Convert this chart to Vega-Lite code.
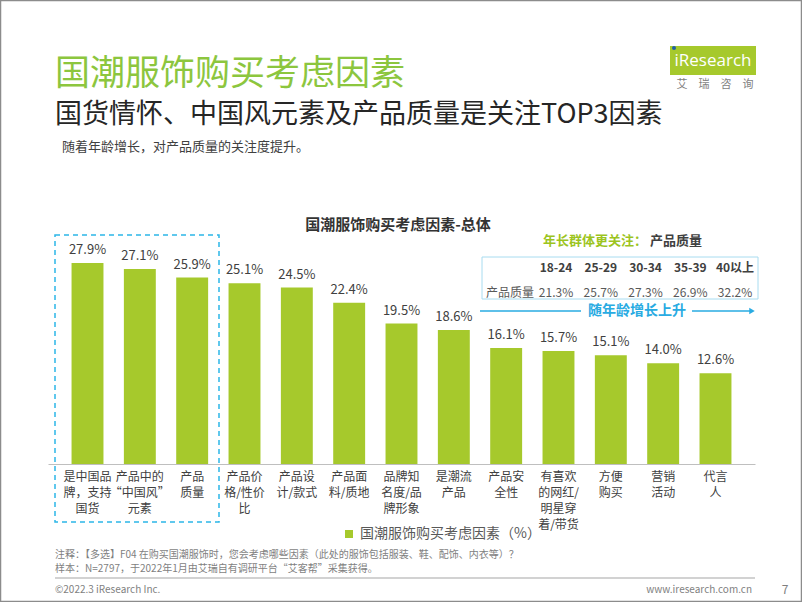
{
  "$schema": "https://vega.github.io/schema/vega-lite/v6.json",
  "width": 707,
  "height": 288,
  "autosize": {"type": "none"},
  "padding": {"left": 48, "top": 176, "right": 47, "bottom": 138},
  "background": "white",
  "config": {"view": {"stroke": null}, "font": "Noto Sans CJK SC"},
  "data": {"values": [
    {"f": "是中国品|牌，支持|国货", "v": 27.9},
    {"f": "产品中的|“中国风”|元素", "v": 27.1},
    {"f": "产品|质量", "v": 25.9},
    {"f": "产品价|格/性价|比", "v": 25.1},
    {"f": "产品设|计/款式", "v": 24.5},
    {"f": "产品面|料/质地", "v": 22.4},
    {"f": "品牌知|名度/品|牌形象", "v": 19.5},
    {"f": "是潮流|产品", "v": 18.6},
    {"f": "产品安|全性", "v": 16.1},
    {"f": "有喜欢|的网红/|明星穿|着/带货", "v": 15.7},
    {"f": "方便|购买", "v": 15.1},
    {"f": "营销|活动", "v": 14.0},
    {"f": "代言|人", "v": 12.6}
  ]},
  "resolve": {"scale": {"x": "independent"}},
  "layer": [
    {
      "encoding": {
        "x": {"field": "f", "type": "nominal", "sort": null,
          "scale": {"paddingInner": 0.39, "paddingOuter": 0.45},
          "axis": {"title": null, "labelAngle": 0, "ticks": false, "domainColor": "#bfbfbf", "domainWidth": 1,
            "labelExpr": "split(datum.label, '|')", "labelFontSize": 12, "labelLineHeight": 16,
            "labelColor": "#404040", "labelPadding": 7, "labelBaseline": "top", "labelLimit": 200}},
        "y": {"field": "v", "type": "quantitative", "scale": {"domain": [0, 40]}, "axis": null}
      },
      "layer": [
        {"mark": {"type": "bar"},
         "encoding": {"color": {"datum": "国潮服饰购买考虑因素（%）", "type": "nominal",
           "scale": {"range": ["#a6c92c"]},
           "legend": {"orient": "none", "legendX": 294, "legendY": 351, "title": null, "symbolType": "square",
             "symbolSize": 64, "labelFontSize": 14, "labelColor": "#595959", "symbolStrokeWidth": 0, "labelOffset": 4, "labelLimit": 400}}}},
        {"mark": {"type": "text", "baseline": "bottom", "dy": -6, "fontSize": 13, "color": "#404040",
          "text": {"expr": "format(datum.v, '.1f') + '%'"}}}
      ]
    },
    {
      "data": {"values": [
        {"a": "18-24", "p": "21.3%"},
        {"a": "25-29", "p": "25.7%"},
        {"a": "30-34", "p": "27.3%"},
        {"a": "35-39", "p": "26.9%"},
        {"a": "40以上", "p": "32.2%"}
      ]},
      "encoding": {
        "x": {"field": "a", "type": "nominal", "sort": null, "scale": {"type": "point", "range": [508, 687], "padding": 0}, "axis": null}
      },
      "layer": [
        {"mark": {"type": "text", "y": 92, "fontSize": 12, "fontWeight": "bold", "color": "#404040"},
         "encoding": {"text": {"field": "a"}}},
        {"mark": {"type": "text", "y": 117, "fontSize": 12, "color": "#595959"},
         "encoding": {"text": {"field": "p"}}}
      ]
    },
    {"data": {"values": [{}]}, "mark": {"type": "rect", "x": -47.5, "x2": 753.5, "y": -175.5, "y2": 425.5, "fill": null, "stroke": "#8c8c8c", "strokeWidth": 1.5}, "encoding": {}},
    {"data": {"values": [{}]}, "mark": {"type": "rect", "x": 7, "x2": 171, "y": 59, "y2": 346, "fill": null, "stroke": "#2db7e8", "strokeWidth": 1.5, "strokeDash": [5, 4]}, "encoding": {}},
    {"data": {"values": [{}]}, "mark": {"type": "rect", "x": 434, "x2": 710, "y": 81, "y2": 123, "fill": null, "stroke": "#a8dcf0", "strokeWidth": 1}, "encoding": {}},
    {"data": {"values": [{}]}, "mark": {"type": "text", "x": 462, "y": 117, "fontSize": 12, "color": "#595959", "text": "产品质量"}, "encoding": {}},
    {"data": {"values": [{}]}, "mark": {"type": "text", "x": 495, "y": 65, "align": "left", "fontSize": 13, "fontWeight": "bold", "color": "#9cc41e", "text": "年长群体更关注："}, "encoding": {}},
    {"data": {"values": [{}]}, "mark": {"type": "text", "x": 602, "y": 65, "align": "left", "fontSize": 13, "fontWeight": "bold", "color": "#404040", "text": "产品质量"}, "encoding": {}},
    {"data": {"values": [{}]}, "mark": {"type": "rect", "x": 432, "x2": 533, "y": 134.3, "y2": 135.7, "color": "#29abe2"}, "encoding": {}},
    {"data": {"values": [{}]}, "mark": {"type": "rect", "x": 644, "x2": 703, "y": 134.3, "y2": 135.7, "color": "#29abe2"}, "encoding": {}},
    {"data": {"values": [{}]}, "mark": {"type": "point", "x": 704, "y": 135, "shape": "triangle-right", "size": 40, "filled": true, "color": "#29abe2", "opacity": 1}, "encoding": {}},
    {"data": {"values": [{}]}, "mark": {"type": "text", "x": 589, "y": 135, "fontSize": 14, "fontWeight": "bold", "color": "#29abe2", "text": "随年龄增长上升"}, "encoding": {}},
    {"data": {"values": [{}]}, "mark": {"type": "text", "x": 350, "y": 49, "fontSize": 15, "fontWeight": "bold", "color": "#333333", "text": "国潮服饰购买考虑因素-总体"}, "encoding": {}},
    {"data": {"values": [{}]}, "mark": {"type": "text", "x": 7, "y": -102, "align": "left", "fontSize": 35, "color": "#8cc63e", "text": "国潮服饰购买考虑因素"}, "encoding": {}},
    {"data": {"values": [{}]}, "mark": {"type": "text", "x": 7, "y": -61, "align": "left", "fontSize": 27, "color": "#262626", "text": "国货情怀、中国风元素及产品质量是关注TOP3因素"}, "encoding": {}},
    {"data": {"values": [{}]}, "mark": {"type": "text", "x": 14, "y": -29, "align": "left", "fontSize": 13, "color": "#404040", "text": "随着年龄增长，对产品质量的关注度提升。"}, "encoding": {}},
    {"data": {"values": [{}]}, "mark": {"type": "rect", "x": 622, "x2": 708, "y": -130, "y2": -101, "color": "#a6c92c"}, "encoding": {}},
    {"data": {"values": [{}]}, "mark": {"type": "text", "x": 665, "y": -115, "align": "center", "fontSize": 17, "font": "Open Sans", "color": "white", "text": "iResearch"}, "encoding": {}},
    {"data": {"values": [{}]}, "mark": {"type": "point", "x": 626, "y": -128, "size": 16, "filled": true, "color": "#1f5fa8", "opacity": 1}, "encoding": {}},
    {"data": {"values": [{}]}, "mark": {"type": "text", "x": 667, "y": -91, "fontSize": 11, "color": "#7f7f7f", "text": "艾\u2003瑞\u2003咨\u2003询"}, "encoding": {}},
    {"data": {"values": [{}]}, "mark": {"type": "text", "x": 7, "y": 379, "align": "left", "fontSize": 10, "color": "#7f7f7f", "text": "注释：【多选】F04 在购买国潮服饰时，您会考虑哪些因素（此处的服饰包括服装、鞋、配饰、内衣等）？"}, "encoding": {}},
    {"data": {"values": [{}]}, "mark": {"type": "text", "x": 7, "y": 393, "align": "left", "fontSize": 10, "color": "#7f7f7f", "text": "样本：N=2797，于2022年1月由艾瑞自有调研平台“艾客帮”采集获得。"}, "encoding": {}},
    {"data": {"values": [{}]}, "mark": {"type": "rect", "x": 7, "x2": 707, "y": 401.5, "y2": 402.5, "color": "#a6a6a6"}, "encoding": {}},
    {"data": {"values": [{}]}, "mark": {"type": "text", "x": 7, "y": 414, "align": "left", "fontSize": 10, "color": "#7f7f7f", "text": "©2022.3 iResearch Inc."}, "encoding": {}},
    {"data": {"values": [{}]}, "mark": {"type": "text", "x": 704, "y": 414, "align": "right", "fontSize": 10, "color": "#7f7f7f", "text": "www.iresearch.com.cn"}, "encoding": {}},
    {"data": {"values": [{}]}, "mark": {"type": "text", "x": 737, "y": 414, "fontSize": 12, "color": "#7f7f7f", "text": "7"}, "encoding": {}}
  ]
}
